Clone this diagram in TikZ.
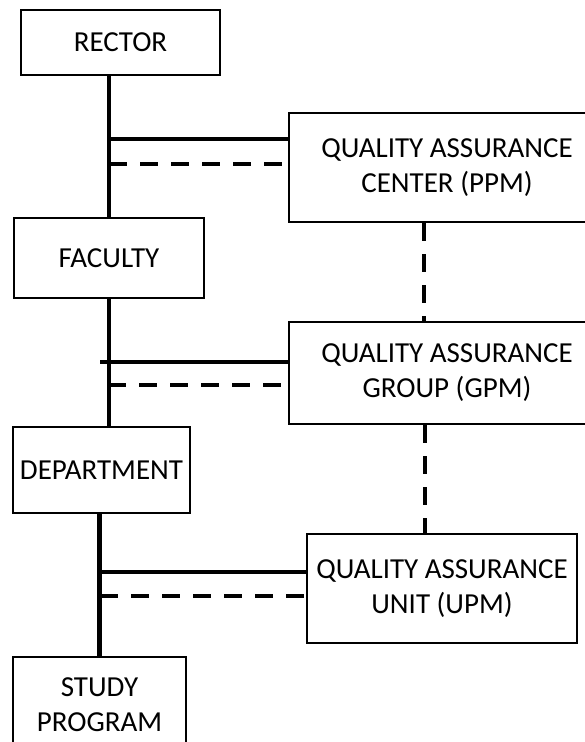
\documentclass[tikz,border=0pt]{standalone}
\usepackage{fontspec}
\setmainfont{Carlito}
\usepackage{tikz}
\usetikzlibrary{positioning}
\tikzset{box/.style={rectangle,draw,line width=2.5pt,align=center,inner sep=0pt,font=\fontsize{29}{35}\selectfont}}
\tikzset{trunk/.style={line width=4.5pt},link/.style={line width=3.5pt},dlink/.style={line width=4pt,dash pattern=on 18pt off 13pt}}

\begin{document}
\begin{tikzpicture}[x=1pt,y=-1pt]
        \useasboundingbox (0,0) rectangle (585,742);
        \clip (0,0) rectangle (585,742);
        \fill[white] (0,0) rectangle (585,742);

        % left column
        \node[box,minimum width=199pt,minimum height=65pt] (rector) at (120.5,42.5) {RECTOR};
        \node[box,minimum width=190pt,minimum height=80pt] (faculty) at (109,258) {FACULTY};
        \node[box,minimum width=177pt,minimum height=86pt] (dept) at (101.5,470) {DEPARTMENT};
        \node[box,minimum width=173pt,minimum height=96pt] (study) at (99.5,705) {STUDY\\PROGRAM};

        % right column
        \node[box,minimum width=316pt,minimum height=109pt] (ppm) at (447,167.5) {QUALITY ASSURANCE\\CENTER (PPM)};
        \node[box,minimum width=316pt,minimum height=102pt] (gpm) at (447,373) {QUALITY ASSURANCE\\GROUP (GPM)};
        \node[box,minimum width=270pt,minimum height=109pt] (upm) at (442,588.5) {QUALITY ASSURANCE\\UNIT (UPM)};

        \draw [trunk] (rector.south -| faculty.north) to (faculty.north);
        \draw [trunk] (faculty.south) to (faculty.south |- dept.north);
        \draw [trunk] (dept.south -| study.north) to (study.north);

        \coordinate (a1) at (109,139);
        \coordinate (a2) at (109,164);
        \coordinate (b1) at (100,362);
        \coordinate (b2) at (108,385);
        \coordinate (c1) at (100,572);
        \coordinate (c2) at (100,596);

        \draw [link] (a1) to (a1 -| ppm.west);
        \draw [dlink] (a2) to (a2 -| ppm.west);
        \draw [link] (b1) to (b1 -| gpm.west);
        \draw [dlink] (b2) to (b2 -| gpm.west);
        \draw [link] (c1) to (c1 -| upm.west);
        \draw [dlink] (c2) to (c2 -| upm.west);

        \draw [dlink] ([xshift=-23pt]ppm.south) to ([xshift=-23pt]gpm.north);
        \draw [dlink] ([xshift=-22pt]gpm.south) to ([xshift=-17pt]upm.north);
    \end{tikzpicture}
\end{document}
